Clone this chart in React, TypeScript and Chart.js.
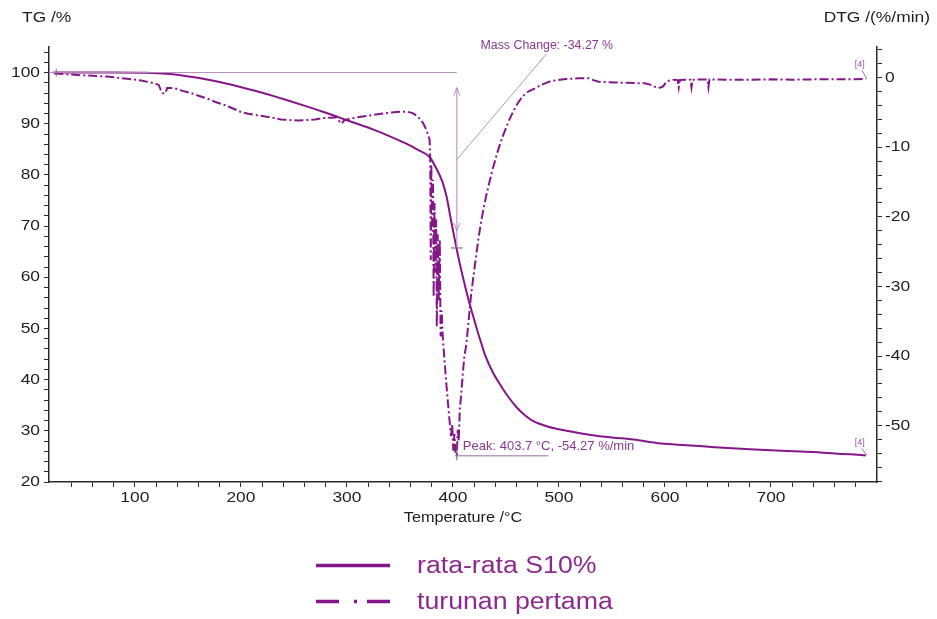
import React, { useEffect, useRef } from 'react';
import { Chart, registerables } from 'chart.js';

Chart.register(...registerables);

// ---- data ----
const tgTemp = [23, 50, 80, 110, 130, 143, 156, 168, 184, 199.5, 215, 231, 246, 262, 278, 293, 309, 325, 340, 356, 367, 378, 384, 390, 394, 397, 400, 403, 406, 409, 412, 415.5, 419, 422, 426, 430, 437, 444, 452, 460, 466, 475, 490, 510, 530, 550, 570, 590, 597, 620, 647, 680, 710, 740, 757, 775, 789.5];
const tgValues = [100.0, 100.0, 100.0, 99.95, 99.78, 99.5, 99.1, 98.65, 97.95, 97.2, 96.35, 95.4, 94.45, 93.4, 92.3, 91.2, 90.05, 88.85, 87.6, 86.1, 84.9, 83.5, 81.4, 78.7, 75.8, 72.5, 69.2, 66.1, 63.1, 60.4, 57.8, 55.0, 52.5, 50.3, 47.6, 45.0, 41.7, 39.2, 36.7, 34.6, 33.4, 32.0, 30.8, 29.9, 29.2, 28.7, 28.3, 27.7, 27.5, 27.2, 26.8, 26.4, 26.1, 25.85, 25.6, 25.4, 25.2];

const dtgTemp = [24, 43, 74, 95, 106, 118, 122.5, 124.5, 126, 128.5, 130.5, 137, 145, 152.6, 160, 168, 176, 184, 192, 199.5, 207, 215, 223, 231, 238, 246.5, 254, 262, 270, 278, 285, 290, 293, 295, 297, 300, 310, 318, 325, 332, 340, 350, 357, 362, 367, 371.7, 375, 378,
  378.6, 379.1, 379.6, 380.5, 381.2, 381.8, 382.6, 383.5, 384.2, 384.8, 385.6, 386.6, 387.6, 388.4, 389.4, 390.4, 392, 393.5, 395, 396.7, 398.2, 399.3, 400.4, 401.4, 402.5, 403.7, 404.5, 405.5, 406.5, 407.7, 409.2, 410.8, 412.5, 414, 415.5, 417, 419.5, 421.8, 424, 426.4, 428.8, 431.2, 434.5, 437.4, 442, 446.8, 453, 459, 465.5, 471, 478, 484, 490.6, 498, 506.3, 518, 528, 533, 537.6, 545, 553, 565, 575, 581, 586, 590, 594, 598, 602, 608, 612, 613, 614, 624, 625, 626, 640, 641, 642, 660, 680, 700, 720, 740, 760, 775, 789.5];
const dtgValues = [0.6, 0.4, 0.15, -0.2, -0.4, -0.8, -1.05, -1.8, -2.2, -2.3, -1.5, -1.5, -1.9, -2.2, -2.6, -3.0, -3.5, -3.9, -4.4, -4.9, -5.2, -5.4, -5.6, -5.8, -6.0, -6.1, -6.15, -6.1, -6.0, -5.8, -5.75, -5.7, -6.3, -6.6, -6.2, -6.0, -5.7, -5.5, -5.35, -5.2, -5.05, -4.9, -4.9, -5.1, -5.6, -6.5, -7.5, -8.9,
  -11.8, -26.2, -12.5, -22, -14.7, -31.5, -18, -28, -20.4, -35.8, -22.5, -32, -23.3, -37.2, -33.5, -37.2, -40.5, -43.4, -46.2, -49.1, -51.5, -49.8, -53.6, -51.2, -54.0, -54.27, -50.6, -52.2, -47.5, -45.8, -42.8, -40.0, -38.5, -36.2, -33.8, -31.4, -28.4, -25.7, -23.2, -20.9, -18.9, -17.1, -15.0, -13.2, -10.7, -8.5, -6.1, -4.2, -2.7, -2.0, -1.5, -1.0, -0.6, -0.35, -0.2, -0.1, -0.1, -0.4, -0.6, -0.65, -0.7, -0.75, -0.8, -0.8, -1.0, -1.3, -1.5, -1.3, -0.5, -0.3, -0.35, -1.4, -0.35, -0.3, -1.4, -0.3, -0.25, -1.4, -0.25, -0.3, -0.3, -0.25, -0.3, -0.25, -0.25, -0.25, -0.2];

const xTickLabels = [100, 200, 300, 400, 500, 600, 700];
const tgTickLabels = [20, 30, 40, 50, 60, 70, 80, 90, 100];
const dtgTickLabels = [0, -10, -20, -30, -40, -50];
const seriesNames = ['rata-rata S10%', 'turunan pertama'];
const xTitle = 'Temperature /°C';
const tgTitle = 'TG /%';
const dtgTitle = 'DTG /(%/min)';
const massChange = -34.27;
const peakTemp = 403.7;
const peakRate = -54.27;
const massLabel = 'Mass Change: -34.27 %';
const peakLabel = 'Peak: 403.7 °C, -54.27 %/min';
const endLabel = '[4]';

// ---- styles ----
const LINE_COLOR = '#85168a';
const LEGEND_TEXT = '#8c2a8e';
const ANNOT_TEXT = '#8a3a8e';
const AXIS_COLOR = '#2a2a2a';
const FONT = '"Liberation Sans", Arial, sans-serif';
const STRETCH = 1.16;

function sText(ctx: CanvasRenderingContext2D, text: string, x: number, y: number, size: number, color: string, align: 'left' | 'right' | 'center', sx = STRETCH, baseline: CanvasTextBaseline = 'middle') {
  ctx.save();
  ctx.font = `${size}px ${FONT}`;
  ctx.fillStyle = color;
  ctx.textBaseline = baseline;
  ctx.textAlign = 'left';
  const w = ctx.measureText(text).width * sx;
  const left = align === 'left' ? x : align === 'right' ? x - w : x - w / 2;
  ctx.translate(left, y);
  ctx.scale(sx, 1);
  ctx.fillText(text, 0, 0);
  ctx.restore();
}

function line(ctx: CanvasRenderingContext2D, x1: number, y1: number, x2: number, y2: number, color: string, w = 1) {
  ctx.save();
  ctx.strokeStyle = color;
  ctx.lineWidth = w;
  ctx.beginPath();
  ctx.moveTo(x1, y1);
  ctx.lineTo(x2, y2);
  ctx.stroke();
  ctx.restore();
}

const annotPlugin = {
  id: 'annot',
  afterDatasetsDraw(chart: any) {
    const ctx: CanvasRenderingContext2D = chart.ctx;
    const xs = chart.scales.x;
    const yl = chart.scales.y;
    const yr = chart.scales.y2;
    const area = chart.chartArea;
    const xp = xs.getPixelForValue(peakTemp);
    const y100 = yl.getPixelForValue(100);
    const yEnd = yl.getPixelForValue(100 + massChange);
    const lav = '#b48cb8';

    line(ctx, area.left, y100, xp, y100, lav, 1);
    const topTip = y100 + 15;
    const botTip = yEnd - 17;
    line(ctx, xp, topTip, xp, yEnd, lav, 1);
    line(ctx, xp, topTip, xp - 3, topTip + 8, lav, 1);
    line(ctx, xp, topTip, xp + 3, topTip + 8, lav, 1);
    line(ctx, xp, botTip, xp - 3, botTip - 8, lav, 1);
    line(ctx, xp, botTip, xp + 3, botTip - 8, lav, 1);
    line(ctx, xp - 6, yEnd, xp + 6, yEnd, '#6a5a6a', 1);
    line(ctx, xp, yl.getPixelForValue(83), xs.getPixelForValue(488), yl.getPixelForValue(103.6), '#a0a0a0', 1);
    sText(ctx, massLabel, xs.getPixelForValue(426), 46, 12, ANNOT_TEXT, 'left', 1.03);

    const yp = yr.getPixelForValue(peakRate);
    line(ctx, xp - 2, yp + 0.5, xs.getPixelForValue(490), yp + 0.5, '#9a6a9e', 1);
    line(ctx, xp, yp - 11, xp, yp + 5, '#6a5a6a', 1);
    sText(ctx, peakLabel, xp + 6, yp - 9, 13, ANNOT_TEXT, 'left', 1);

    const xs0 = xs.getPixelForValue(tgTemp[0]) + 3;
    line(ctx, xs0, y100 - 4, xs0, y100 + 4, '#8a6a8e', 1);

    const xEnd = xs.getPixelForValue(dtgTemp[dtgTemp.length - 1]);
    const yDtgEnd = yr.getPixelForValue(dtgValues[dtgValues.length - 1]);
    line(ctx, xEnd - 4, yDtgEnd - 9, xEnd + 1, yDtgEnd, '#a070a4', 1);
    sText(ctx, endLabel, xEnd - 6, yDtgEnd - 15, 9, '#9a50a0', 'center', 1);
    const xEnd2 = xs.getPixelForValue(tgTemp[tgTemp.length - 1]);
    const yTgEnd = yl.getPixelForValue(tgValues[tgValues.length - 1]);
    line(ctx, xEnd2 - 4, yTgEnd - 7, xEnd2 + 1, yTgEnd, '#a070a4', 1);
    sText(ctx, endLabel, xEnd2 - 6, yTgEnd - 13, 9, '#9a50a0', 'center', 1);
  },
  afterDraw(chart: any) {
    const ctx: CanvasRenderingContext2D = chart.ctx;
    const xs = chart.scales.x;
    const yl = chart.scales.y;
    const yr = chart.scales.y2;
    const area = chart.chartArea;

    tgTickLabels.forEach((v) => sText(ctx, String(v), area.left - 9, yl.getPixelForValue(v), 15, '#1e1e1e', 'right'));
    dtgTickLabels.forEach((v) => sText(ctx, String(v), area.right + 8, yr.getPixelForValue(v), 15, '#1e1e1e', 'left'));
    xTickLabels.forEach((v) => sText(ctx, String(v), xs.getPixelForValue(v), area.bottom + 15.5, 15, '#1e1e1e', 'center'));

    sText(ctx, tgTitle, 22, 18, 15, '#1e1e1e', 'left');
    sText(ctx, dtgTitle, 930, 18, 15, '#1e1e1e', 'right');
    sText(ctx, xTitle, (area.left + area.right) / 2, area.bottom + 36, 14, '#1e1e1e', 'center');

    ctx.save();
    ctx.strokeStyle = LINE_COLOR;
    ctx.lineWidth = 3.5;
    ctx.beginPath();
    ctx.moveTo(316, 565.5);
    ctx.lineTo(390, 565.5);
    ctx.stroke();
    ctx.setLineDash([23, 15, 3, 10]);
    ctx.beginPath();
    ctx.moveTo(316, 601.5);
    ctx.lineTo(390, 601.5);
    ctx.stroke();
    ctx.restore();
    sText(ctx, seriesNames[0], 417, 572.5, 23, LEGEND_TEXT, 'left', STRETCH, 'alphabetic');
    sText(ctx, seriesNames[1], 417, 608.5, 23, LEGEND_TEXT, 'left', STRETCH, 'alphabetic');
  },
};

function stepTicks(from: number, to: number, step: number) {
  const out: { value: number }[] = [];
  for (let v = from; v <= to + 1e-9; v += step) out.push({ value: Math.round(v * 100) / 100 });
  return out;
}

export default function App() {
  const ref = useRef<HTMLCanvasElement>(null);
  useEffect(() => {
    const canvas = ref.current!;
    const gridOpts = { display: true, drawOnChartArea: false, drawTicks: true, tickLength: 5, color: AXIS_COLOR, lineWidth: 1 };
    const borderOpts = { display: true, color: AXIS_COLOR, width: 1.5 };
    const chart = new Chart(canvas, {
      type: 'line',
      data: {
        datasets: [
          {
            label: seriesNames[0],
            data: tgTemp.map((t, i) => ({ x: t, y: tgValues[i] })),
            yAxisID: 'y',
            borderColor: LINE_COLOR,
            borderWidth: 2,
            pointRadius: 0,
            cubicInterpolationMode: 'monotone',
          },
          {
            label: seriesNames[1],
            data: dtgTemp.map((t, i) => ({ x: t, y: dtgValues[i] })),
            yAxisID: 'y2',
            borderColor: LINE_COLOR,
            borderWidth: 2,
            borderDash: [9, 3, 2, 3],
            pointRadius: 0,
            tension: 0,
          },
        ],
      },
      options: {
        responsive: false,
        devicePixelRatio: 1,
        animation: false,
        layout: { padding: { top: 47, left: 0, right: 0, bottom: 0 } },
        plugins: { legend: { display: false }, tooltip: { enabled: false } },
        scales: {
          x: {
            type: 'linear',
            position: 'bottom',
            min: 19,
            max: 800,
            grid: gridOpts,
            border: borderOpts,
            ticks: { display: false },
            afterBuildTicks: (s: any) => { s.ticks = stepTicks(40, 780, 20); },
            afterFit: (s: any) => { s.height = 137; },
          },
          y: {
            type: 'linear',
            position: 'left',
            min: 20,
            max: 105,
            grid: gridOpts,
            border: borderOpts,
            ticks: { display: false },
            afterBuildTicks: (s: any) => { s.ticks = stepTicks(20, 104, 2); },
            afterFit: (s: any) => { s.width = 49; },
          },
          y2: {
            type: 'linear',
            position: 'right',
            min: -58.1,
            max: 4.4,
            grid: gridOpts,
            border: borderOpts,
            ticks: { display: false },
            afterBuildTicks: (s: any) => { s.ticks = stepTicks(-58, 4, 2); },
            afterFit: (s: any) => { s.width = 60; },
          },
        },
      } as any,
      plugins: [annotPlugin],
    });
    return () => chart.destroy();
  }, []);
  return (
    <canvas
      ref={ref}
      width={937}
      height={619}
      style={{ position: 'absolute', left: 0, top: 0, width: 937, height: 619, display: 'block', background: '#fff' }}
    />
  );
}
